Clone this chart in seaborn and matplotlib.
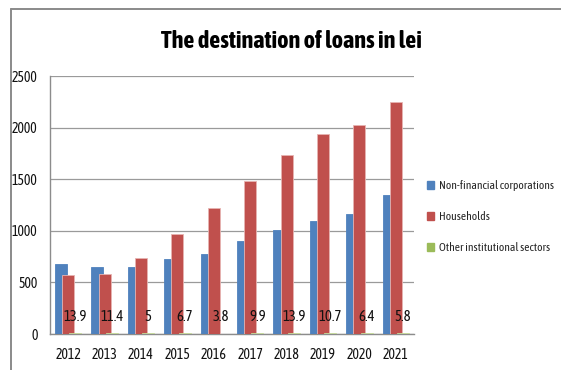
import matplotlib
matplotlib.use("Agg")
import matplotlib.pyplot as plt
from matplotlib.patches import Patch
from matplotlib.lines import Line2D
import numpy as np
import pandas as pd
import seaborn as sns

years = ["2012", "2013", "2014", "2015", "2016", "2017", "2018", "2019", "2020", "2021"]
non_financial = [681, 652, 646, 727, 772, 898, 1010, 1092, 1160, 1347]
households = [569, 584, 739, 969, 1221, 1482, 1734, 1938, 2022, 2245]
other_sectors = [13.9, 11.4, 5, 6.7, 3.8, 9.9, 13.9, 10.7, 6.4, 5.8]
series_names = ["Non-financial corporations", "Households", "Other institutional sectors"]
y_ticks = [0, 500, 1000, 1500, 2000, 2500]

sns.set_theme(style="white")
plt.rcParams["font.family"] = ["Asap Condensed", "DejaVu Sans"]

colors = ["#4f81bd", "#c0504d", "#9bbb59"]
edges = ["#4f81bd", "#e7b4b2", "#c8dca0"]
offsets = [-0.2, 0.0, 0.2]
bar_w = 0.33

fig = plt.figure(figsize=(5.61, 3.70), dpi=100)
ax = fig.add_axes([50 / 561, 36 / 370, 364 / 561, 258 / 370])

pos = np.arange(len(years))
for vals, col, ec, off in zip([non_financial, households, other_sectors], colors, edges, offsets):
    df = pd.DataFrame({"x": pos + off, "y": vals})
    sns.barplot(data=df, x="x", y="y", native_scale=True, width=bar_w,
                color=col, saturation=1, edgecolor=ec, linewidth=0.6, ax=ax, zorder=3)

# value labels for the small sector, at a fixed height above the baseline
for p, v in zip(pos, other_sectors):
    ax.text(p + offsets[2], 165, f"{v:g}", ha="center", va="center",
            fontsize=10.5, color="#111111", zorder=5)

ax.set_xlim(-0.5, len(years) - 0.5)
ax.set_ylim(0, 2500)
ax.set_xticks(pos)
ax.set_xticklabels(years)
ax.set_yticks(y_ticks)
ax.set_yticklabels([str(t) for t in y_ticks])
ax.set_xlabel("")
ax.set_ylabel("")
ax.tick_params(axis="both", labelsize=10, colors="#111111", length=0)
ax.tick_params(axis="x", pad=10)
ax.tick_params(axis="y", pad=9)

ax.grid(axis="y", color="#9a9a9a", linewidth=0.9, zorder=0)
ax.grid(axis="x", visible=False)
for s in ["top", "right"]:
    ax.spines[s].set_visible(False)
for s in ["left", "bottom"]:
    ax.spines[s].set_color("#8c8c8c")
    ax.spines[s].set_linewidth(1.0)

fig.text(291 / 561, 1 - 41 / 370, "The destination of loans in lei", ha="center", va="center",
         fontsize=17.5, fontweight="bold", color="#000000")

handles = [Patch(facecolor=c, edgecolor=c) for c in colors]
fig.legend(handles, series_names, loc="upper left", bbox_to_anchor=(427 / 561, 1 - 180 / 370),
           frameon=False, fontsize=8.3, handlelength=0.65, handleheight=0.65, handletextpad=0.35,
           labelspacing=1.75, borderaxespad=0, borderpad=0)

# outer chart frame
fig.add_artist(Line2D([11 / 561, 1.0], [1 - 9 / 370, 1 - 9 / 370], transform=fig.transFigure,
                      color="#8a8a8a", linewidth=1.4))
fig.add_artist(Line2D([11 / 561, 11 / 561], [0, 1 - 9 / 370], transform=fig.transFigure,
                      color="#8a8a8a", linewidth=1.4))

fig.savefig("out.png", dpi=100)
